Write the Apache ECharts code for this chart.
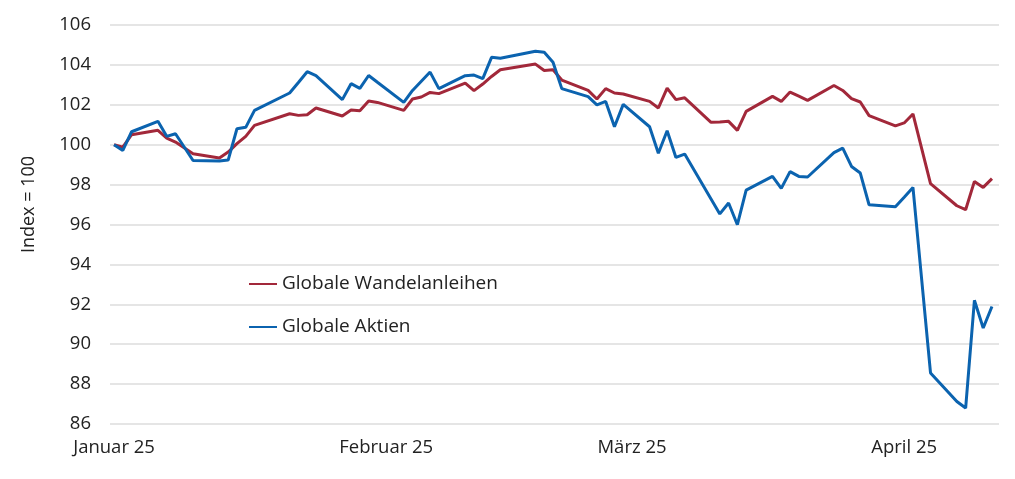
<!DOCTYPE html>
<html>
<head>
<meta charset="utf-8">
<script src="https://cdn.jsdelivr.net/npm/echarts@6/dist/echarts.min.js"></script>
<style>
html,body{margin:0;padding:0;background:#fff;}
#chart{width:1015px;height:479px;}
</style>
</head>
<body>
<div id="chart"></div>
<script>
// Trading days (vertices)
const dates = [
  '2025-01-01','2025-01-02','2025-01-03','2025-01-06','2025-01-07','2025-01-08','2025-01-10',
  '2025-01-13','2025-01-14','2025-01-15','2025-01-16','2025-01-17','2025-01-21','2025-01-22',
  '2025-01-23','2025-01-24','2025-01-27','2025-01-28','2025-01-29','2025-01-30','2025-01-31',
  '2025-02-03','2025-02-04','2025-02-05','2025-02-06','2025-02-07','2025-02-10','2025-02-11',
  '2025-02-12','2025-02-13','2025-02-14','2025-02-18','2025-02-19','2025-02-20','2025-02-21',
  '2025-02-24','2025-02-25','2025-02-26','2025-02-27','2025-02-28','2025-03-03','2025-03-04',
  '2025-03-05','2025-03-06','2025-03-07','2025-03-10','2025-03-11','2025-03-12','2025-03-13',
  '2025-03-14','2025-03-17','2025-03-18','2025-03-19','2025-03-20','2025-03-21','2025-03-24',
  '2025-03-25','2025-03-26','2025-03-27','2025-03-28','2025-03-31','2025-04-01','2025-04-02',
  '2025-04-04','2025-04-07','2025-04-08','2025-04-09','2025-04-10','2025-04-11'
];
const wandelanleihen = [
  100.00, 99.88,100.50,100.72,100.33,100.13, 99.55,
   99.33, 99.63,100.05,100.42,100.97,101.55,101.47,
  101.50,101.84,101.44,101.74,101.70,102.19,102.12,
  101.72,102.29,102.39,102.62,102.56,103.09,102.71,
  103.04,103.42,103.76,104.04,103.72,103.76,103.24,
  102.72,102.29,102.81,102.59,102.54,102.17,101.84,
  102.84,102.26,102.35,101.12,101.14,101.17,100.72,
  101.67,102.42,102.17,102.64,102.43,102.22,102.97,
  102.72,102.31,102.14,101.46,100.94,101.09,101.54,
   98.05, 96.94, 96.74, 98.16, 97.86, 98.30
];
const aktien = [
  100.00, 99.71,100.65,101.17,100.42,100.55, 99.21,
   99.18, 99.23,100.80,100.87,101.72,102.59,103.12,
  103.66,103.46,102.26,103.06,102.82,103.47,103.13,
  102.12,102.72,103.18,103.64,102.81,103.46,103.49,
  103.31,104.38,104.33,104.68,104.63,104.13,102.81,
  102.41,102.00,102.17,100.90,102.02,100.90, 99.57,
  100.70, 99.36, 99.53, 97.28, 96.53, 97.08, 95.99,
   97.72, 98.41, 97.81, 98.65, 98.41, 98.38, 99.60,
   99.83, 98.91, 98.58, 96.99, 96.89, 97.37, 97.86,
   88.56, 87.13, 86.80, 92.20, 90.81, 91.89
];
const monthStarts = ['2025-01-01','2025-02-01','2025-03-01','2025-04-01'];
const monthLabels = ['Januar 25','Februar 25','März 25','April 25'];
const seriesNames = ['Globale Wandelanleihen','Globale Aktien'];

const DAY = 86400000;
const base = Date.UTC(2025,0,1);
const dayNum = s => { const p = s.split('-').map(Number); return (Date.UTC(p[0],p[1]-1,p[2]) - base) / DAY; };
const monthDays = monthStarts.map(dayNum);
const FONT = 'Open Sans';

const chart = echarts.init(document.getElementById('chart'), null, {renderer:'canvas'});
chart.setOption({
  animation: false,
  backgroundColor: '#fff',
  grid: {left: 110, right: 16, top: 25, bottom: 55, containLabel: false},
  legend: {
    orient: 'vertical', left: 249, top: 274, padding: 0,
    icon: 'rect', itemWidth: 28, itemHeight: 2, itemGap: 23,
    textStyle: {fontFamily: FONT, fontSize: 19, color: '#222', lineHeight: 20},
    data: seriesNames
  },
  xAxis: {
    type: 'value', min: -0.46, max: 100.8,
    axisLine: {show: false}, axisTick: {show: false}, splitLine: {show: false},
    axisLabel: {
      customValues: monthDays,
      formatter: v => monthLabels[monthDays.indexOf(Math.round(v))] || '',
      fontFamily: FONT, fontSize: 18.5, color: '#222', margin: 14
    }
  },
  yAxis: {
    type: 'value', min: 86, max: 106, interval: 2,
    name: 'Index = 100', nameLocation: 'middle', nameGap: 72,
    nameTextStyle: {fontFamily: FONT, fontSize: 18, color: '#222', padding: [0,0,0,40]},
    axisLine: {show: false}, axisTick: {show: false},
    splitLine: {lineStyle: {color: '#dcdcdc', width: 1.5}},
    axisLabel: {fontFamily: FONT, fontSize: 18.5, color: '#222', margin: 19}
  },
  series: [
    {
      name: seriesNames[0], type: 'line', symbol: 'none',
      lineStyle: {width: 3, color: '#A2283A'}, itemStyle: {color: '#A2283A'},
      data: dates.map((d,i) => [dayNum(d), wandelanleihen[i]])
    },
    {
      name: seriesNames[1], type: 'line', symbol: 'none',
      lineStyle: {width: 3, color: '#0B63AF'}, itemStyle: {color: '#0B63AF'},
      data: dates.map((d,i) => [dayNum(d), aktien[i]])
    }
  ]
});
</script>
</body>
</html>
